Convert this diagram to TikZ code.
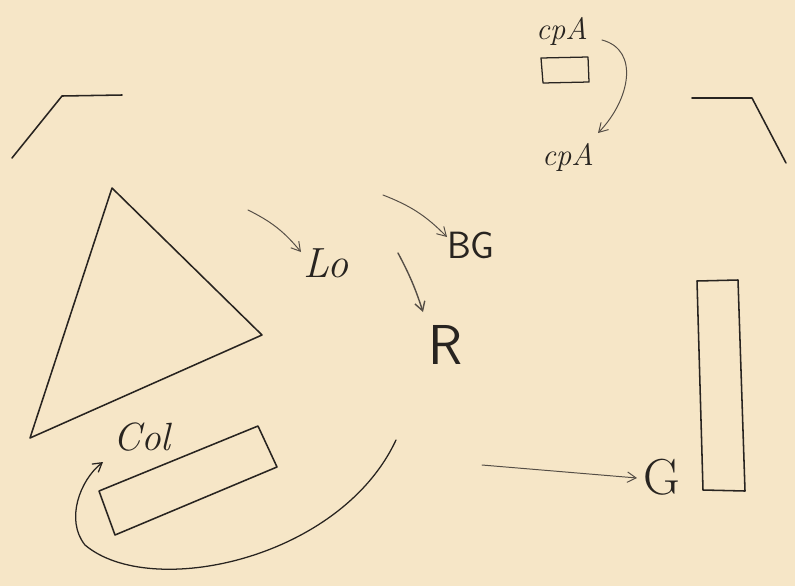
\documentclass[tikz,border=0pt]{standalone}
\usetikzlibrary{calc,positioning,arrows.meta}
\definecolor{paper}{RGB}{246,230,199}
\definecolor{ink}{RGB}{40,36,32}
\definecolor{pencil}{RGB}{85,78,70}
\newcommand{\penfont}[1]{\fontsize{#1}{#1}\selectfont}

\begin{document}
\begin{tikzpicture}[
        x=0.025cm, y=-0.025cm,
        pen/.style = {
            draw=ink,
            line width=1.1pt,
            line cap=round,
            line join=round},
        thin pen/.style = {
            draw=pencil,
            line width=0.7pt,
            line cap=round,
            -{Straight Barb[length=2.2mm,width=2.6mm]}},
        word/.style = {
            text=ink,
            font=\penfont{28pt}\itshape,
            inner sep=1pt}
    ]
    \fill[paper] (0,0) rectangle (795,586);
    \useasboundingbox (0,0) rectangle (795,586);

    % corners at the top
    \draw[pen] (12,158) -- (62,96) -- (122,95);
    \draw[pen] (692,98) -- (752,98) -- (786,163);

    % triangle and the bars
    \coordinate (T1) at (112,188);
    \coordinate (T2) at (262,335);
    \coordinate (T3) at (30,438);
    \draw[pen] (T1) -- (T2) -- (T3) -- cycle;
    \draw[pen] (99,491) -- (258,426) -- (277,467) -- (115,535) -- cycle;
    \draw[pen] (697,281) -- (738,280) -- (745,491) -- (703,490) -- cycle;
    \draw[pen, line width=0.9pt] (541,58) -- (588,57) -- (589,82) -- (543,83) -- cycle;

    % labels
    \node[word, font=\penfont{22pt}\itshape] (cpa top) at (562,31) {cpA};
    \node[word, font=\penfont{22pt}\itshape] (cpa low) at (568,157) {cpA};
    \node[word, font=\penfont{30pt}\itshape] (lo) at (326,263) {Lo};
    \node[word, font=\penfont{27pt}\sffamily] (bg) at (471,245) {BG};
    \node[word, font=\penfont{40pt}\sffamily] (r) at (446,345) {R};
    \node[word] (col) at (142,437) {Col};
    \node[word, font=\penfont{36pt}] (g) at (662,477) {G};

    % arrows
    \coordinate (lo in) at (248,210);
    \coordinate (bg in) at (383,195);
    \coordinate (r in) at (398,253);
    \coordinate (g in) at (482,465);
    \coordinate (col in) at (396,440);
    \draw[thin pen] (lo in) to[bend left=12] (301,252);
    \draw[thin pen] (bg in) to[bend left=12] (447,237);
    \draw[thin pen, line width=1pt] (r in) to[bend left=5] (423,312);
    \draw[thin pen] (g in) -- (637,478);
    \draw[thin pen] (602,40) .. controls (640,50) and (630,100) .. (598,133);
    \draw[thin pen, draw=ink, line width=0.9pt]
        (col in) .. controls (340,560) and (150,600) .. (85,545)
        .. controls (65,520) and (80,480) .. (103,462);
\end{tikzpicture}
\end{document}
